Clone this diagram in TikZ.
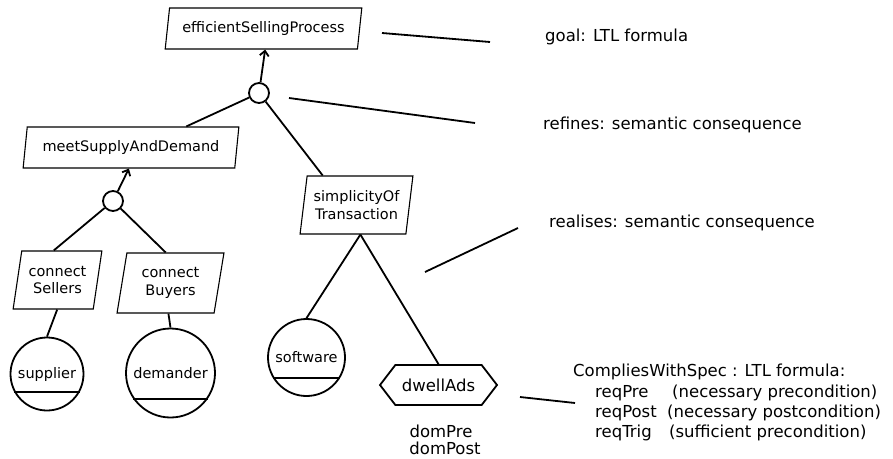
\documentclass[tikz,border=0pt]{standalone}
\usepackage{fontspec}
\setmainfont{DejaVu Sans}
\usetikzlibrary{shapes.geometric,shapes.symbols,arrows.meta,calc}
\newcommand\lblfont{\fontsize{14.5}{17.5}\selectfont}
\newcommand\notefont{\fontsize{16.5}{20}\selectfont}
\begin{document}
\begin{tikzpicture}[x=1pt,y=-1pt,
  goalbox/.style={trapezium, trapezium stretches=true,
    trapezium left angle=76, trapezium right angle=104,
    draw, line width=1.1pt, inner sep=0pt, align=center, font=\lblfont},
  andnode/.style={circle, draw, line width=1.8pt, inner sep=0pt, minimum size=20pt},
  agent/.style={circle, draw, line width=1.8pt, inner sep=0pt, minimum size=#1, font=\lblfont},
  taskbox/.style={signal, signal to=east and west, signal pointer angle=105,
    draw, line width=1.8pt, inner sep=0pt, font=\notefont},
  conn/.style={line width=1.8pt},
  refarrow/.style={conn, -{Straight Barb[length=5pt,width=9pt]}},
  note/.style={anchor=base west, inner sep=0pt, font=\notefont},
]
\useasboundingbox (0,0) rectangle (893,458);

% goals
\node[goalbox, minimum width=197pt, minimum height=41pt, trapezium left angle=75, trapezium right angle=105] (esp) at (263.5,28.5) {efficientSellingProcess};
\node[goalbox, minimum width=216pt, minimum height=41pt] (msd) at (131,147.5) {meetSupplyAndDemand};
\node[goalbox, minimum width=89pt, minimum height=58pt] (cs) at (57.5,280) {connect\\Sellers};
\node[goalbox, minimum width=107pt, minimum height=60pt, trapezium left angle=78, trapezium right angle=102] (cb) at (170.5,283) {connect\\Buyers};
\node[goalbox, minimum width=113pt, minimum height=58pt, trapezium left angle=78, trapezium right angle=102] (sot) at (356.5,205) {simplicityOf\\Transaction};

% refinement nodes
\node[andnode] (r1) at (259,93) {};
\node[andnode] (r2) at (113,201) {};

% agents
\node[agent=73pt] (sup) at (47,374) {supplier};
\node[agent=89pt] (dem) at (170.5,373) {demander};
\node[agent=77pt] (sw) at (306.5,357.5) {software};
\draw[line width=1.8pt] (sup.-151) -- (sup.-29);
\draw[line width=1.8pt] (dem.-145) -- (dem.-35);
\draw[line width=1.8pt] (sw.-149) -- (sw.-31);

% operation and its domain conditions
\node[taskbox, minimum width=117pt, minimum height=40pt] (da) at (438.5,385) {dwellAds};
\node[font=\notefont, inner sep=0pt, anchor=base] (dpre0) at (441,437) {domPre};
\node[font=\notefont, inner sep=0pt, anchor=base] (dpost0) at (445,454) {domPost};

% refinement links
\draw[refarrow] (r1) -- ($(esp.bottom left corner)!0.52!(esp.bottom right corner)$);
\draw[conn] (r1) -- ($(msd.top left corner)!0.75!(msd.top right corner)$);
\draw[conn] (r1) -- ($(sot.top left corner)!0.15!(sot.top right corner)$);
\draw[refarrow] (r2) -- (msd.bottom side);
\draw[conn] (r2) -- ($(cs.top left corner)!0.4!(cs.top right corner)$);
\draw[conn] (r2) -- ($(cb.top left corner)!0.4!(cb.top right corner)$);

% responsibility links
\draw[conn] ($(cs.bottom left corner)!0.55!(cs.bottom right corner)$) -- (sup.north);
\draw[conn] ($(cb.bottom left corner)!0.53!(cb.bottom right corner)$) -- (dem.north);
\draw[conn] ($(sot.bottom left corner)!0.57!(sot.bottom right corner)$) -- (sw.north);
\draw[conn] ($(sot.bottom left corner)!0.57!(sot.bottom right corner)$) -- (da.north);

% legend pointers
\coordinate (g1) at (382,33);  \coordinate (g2) at (490,42);
\coordinate (f1) at (289,98);  \coordinate (f2) at (475,123);
\coordinate (s1) at (425,272); \coordinate (s2) at (518,228);
\coordinate (o1) at (520,397); \coordinate (o2) at (575,403);
\draw[conn] (g1) -- (g2);
\draw[conn] (f1) -- (f2);
\draw[conn] (s1) -- (s2);
\draw[conn] (o1) -- (o2);

% legend texts
\node[note] (tgoal) at (545,41) {goal: LTL formula};
\node[note] (tref) at (543,129) {refines: semantic consequence};
\node[note] (treal) at (549,227) {realises: semantic consequence};
\node[note] (tspec) at (573,376) {CompliesWithSpec : LTL formula:};
\node[note] (tpre) at (595,397) {reqPre};
\node[note] (tpost) at (595,417) {reqPost};
\node[note] (ttrig) at (595,437) {reqTrig};
\node[note] (dpre) at (672,397) {(necessary precondition)};
\node[note] (dpost) at (667,417) {(necessary postcondition)};
\node[note] (dtrig) at (669,437) {(sufficient precondition)};
\end{tikzpicture}
\end{document}
